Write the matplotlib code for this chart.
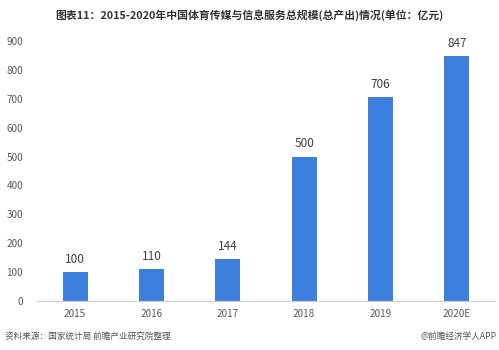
import matplotlib.pyplot as plt
import numpy as np

plt.rcParams['font.family'] = ['Noto Sans CJK SC', 'DejaVu Sans']

years = ['2015', '2016', '2017', '2018', '2019', '2020E']
values = [100, 110, 144, 500, 706, 847]
yticks = [0, 100, 200, 300, 400, 500, 600, 700, 800, 900]

title = '图表11：2015-2020年中国体育传媒与信息服务总规模(总产出)情况(单位：亿元)'
source = '资料来源：国家统计局 前瞻产业研究院整理'
brand = '@前瞻经济学人APP'

fig = plt.figure(figsize=(4.99, 3.5), dpi=100)
ax = fig.add_axes([0.074, 0.14, 0.918, 0.743])

x = np.arange(len(years))
bars = ax.bar(x, values, width=0.33, color='#3d7fdc')

for xi, v in zip(x, values):
    ax.text(xi, v + 22, str(v), ha='center', va='bottom', fontsize=8.5, color='#404040')

ax.set_xlim(-0.5, len(years) - 0.5)
ax.set_ylim(0, 900)
ax.set_xticks(x)
ax.set_xticklabels(years)
ax.set_yticks(yticks)
ax.tick_params(axis='both', length=0, labelsize=7.2, colors='#595959')
ax.tick_params(axis='y', pad=10)
ax.tick_params(axis='x', pad=6)

for s in ['top', 'right', 'left']:
    ax.spines[s].set_visible(False)
ax.spines['bottom'].set_color('#d0d0d0')

fig.text(0.499, 0.957, title, ha='center', va='center', fontsize=7.8, fontweight='bold', color='#333333')
fig.text(0.01, 0.04, source, ha='left', va='center', fontsize=6.2, color='#555555')
fig.text(0.995, 0.04, brand, ha='right', va='center', fontsize=6.2, color='#555555')

fig.savefig('out.png', dpi=100)
